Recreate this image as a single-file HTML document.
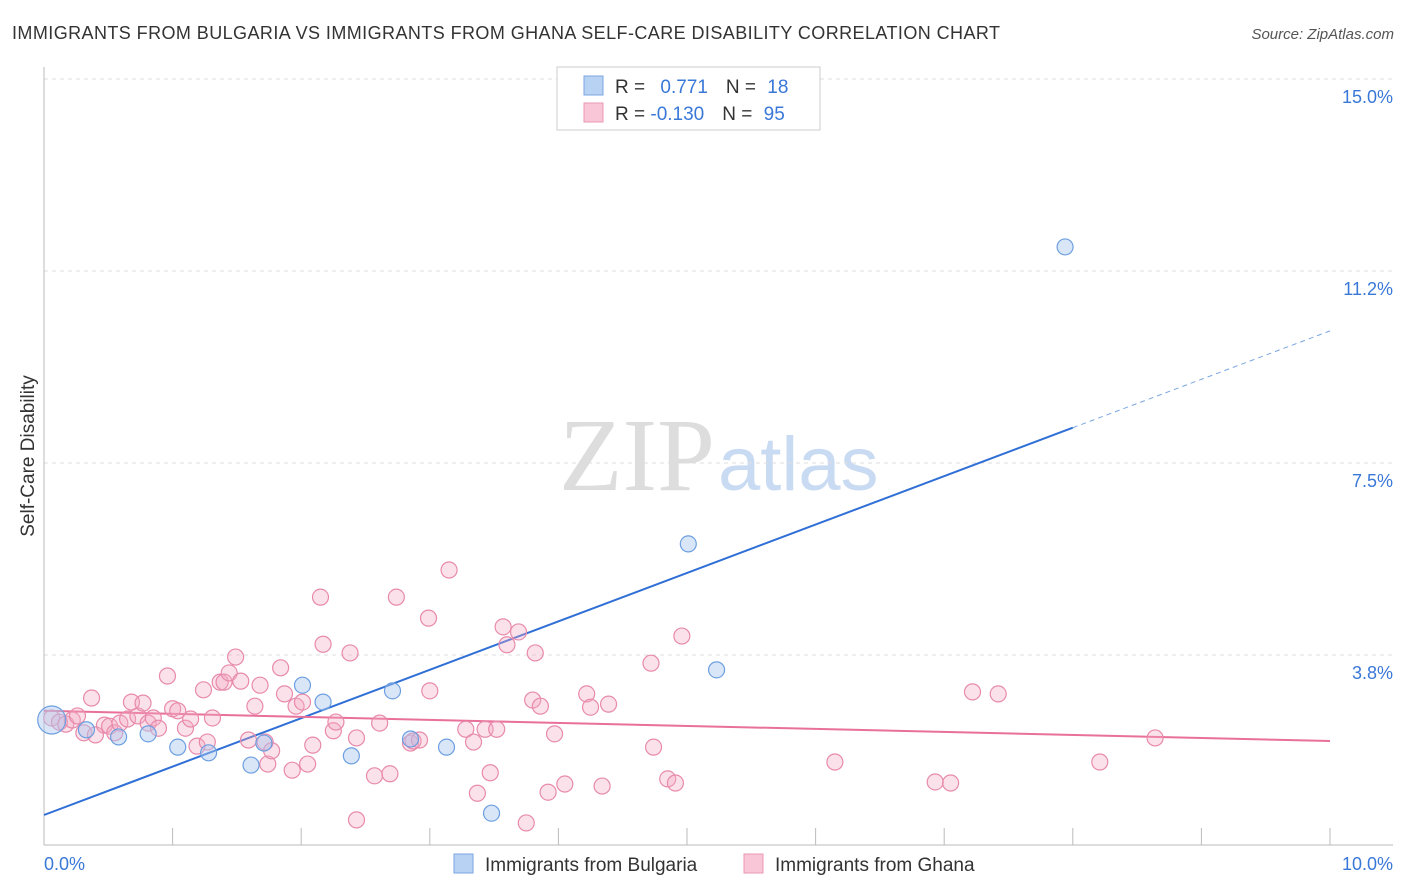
<!DOCTYPE html>
<html><head><meta charset="utf-8"><style>
body{margin:0;background:#fff;font-family:"Liberation Sans",sans-serif;}
svg{display:block}
</style></head><body>
<svg id="chart" width="1406" height="892" xmlns="http://www.w3.org/2000/svg">
<text x="12" y="39" font-size="18" fill="#333" textLength="988" lengthAdjust="spacing">IMMIGRANTS FROM BULGARIA VS IMMIGRANTS FROM GHANA SELF-CARE DISABILITY CORRELATION CHART</text>
<text x="1394" y="39" font-size="15" fill="#555" text-anchor="end" font-style="italic">Source: ZipAtlas.com</text>
<text x="715" y="490" font-size="104" fill="#ddd" text-anchor="end" font-family="Liberation Serif,serif">ZIP</text>
<text x="718" y="490" font-size="76" fill="#c9dbf2">atlas</text>
<g id="grid"></g>
<g id="axes"></g>
<g id="lines"></g>
<g id="points"></g>
<text transform="translate(34,456) rotate(-90)" font-size="19" fill="#333" text-anchor="middle">Self-Care Disability</text>
<g>
<rect x="557" y="67" width="263" height="63" fill="#fff" stroke="#ccc"/>
<rect x="584" y="76" width="19" height="19" fill="#b8d2f4" stroke="#7aa6e2"/>
<rect x="584" y="103" width="19" height="19" fill="#f8c6d6" stroke="#ea97b3"/>
<text x="615" y="93" font-size="19" fill="#333">R = <tspan fill="#3a78d8" dx="10">0.771</tspan><tspan dx="18" fill="#333">N = </tspan><tspan fill="#3a78d8" dx="6">18</tspan></text>
<text x="615" y="120" font-size="19" fill="#333">R = <tspan fill="#3a78d8">-0.130</tspan><tspan dx="18" fill="#333">N = </tspan><tspan fill="#3a78d8" dx="6">95</tspan></text>
</g>
<g>
<rect x="454" y="854" width="19" height="19" fill="#b8d2f4" stroke="#7aa6e2"/>
<text x="485" y="871" font-size="19" fill="#333">Immigrants from Bulgaria</text>
<rect x="744" y="854" width="19" height="19" fill="#f8c6d6" stroke="#ea97b3"/>
<text x="775" y="871" font-size="19" fill="#333">Immigrants from Ghana</text>
</g>
</svg>
<script>
const yTicks=[15.0,11.25,7.5,3.75];
const yTickLabels=["15.0%","11.2%","7.5%","3.8%"];
const xTicks=[0,1,2,3,4,5,6,7,8,9,10];
const bulgariaX=[0.06,0.33,0.58,0.81,1.04,1.28,1.61,1.71,2.01,2.17,2.39,2.71,2.85,3.13,3.48,5.01,5.23,7.94];
const bulgariaY=[2.48,2.29,2.15,2.21,1.95,1.84,1.60,2.03,3.16,2.83,1.78,3.05,2.11,1.95,0.66,5.92,3.46,11.72];
const ghanaX=[0.06,0.12,0.17,0.22,0.26,0.31,0.37,0.40,0.47,0.51,0.55,0.59,0.65,0.68,0.73,0.77,0.81,0.85,0.89,0.96,1.00,1.04,1.10,1.14,1.19,1.24,1.27,1.31,1.37,1.40,1.44,1.49,1.53,1.59,1.64,1.68,1.72,1.74,1.77,1.84,1.87,1.93,1.96,2.01,2.05,2.09,2.15,2.17,2.25,2.27,2.38,2.43,2.43,2.57,2.61,2.69,2.74,2.85,2.87,2.92,2.99,3.00,3.15,3.28,3.34,3.37,3.43,3.47,3.52,3.57,3.60,3.69,3.75,3.80,3.82,3.86,3.92,3.97,4.05,4.22,4.25,4.34,4.39,4.72,4.74,4.85,4.91,4.96,6.15,6.93,7.05,7.22,7.42,8.21,8.64];
const ghanaY=[2.52,2.44,2.40,2.48,2.56,2.23,2.91,2.19,2.38,2.36,2.23,2.42,2.50,2.83,2.56,2.81,2.42,2.52,2.32,3.34,2.70,2.66,2.32,2.50,1.97,3.07,2.05,2.52,3.22,3.22,3.40,3.71,3.24,2.09,2.75,3.16,2.05,1.62,1.88,3.50,2.99,1.50,2.75,2.83,1.62,1.99,4.88,3.96,2.27,2.44,3.79,2.13,0.53,1.39,2.42,1.43,4.88,2.03,2.07,2.09,4.47,3.05,5.41,2.30,2.05,1.05,2.30,1.45,2.30,4.30,3.95,4.20,0.47,2.87,3.79,2.75,1.07,2.21,1.23,2.99,2.73,1.19,2.79,3.59,1.95,1.33,1.25,4.12,1.66,1.27,1.25,3.03,2.99,1.66,2.13];
const bulgariaTrend=[0.625,10.08];
const ghanaTrend=[2.66,2.07];
const X=v=>44+v*128.6, Y=v=>847-v*51.2;
const NS="http://www.w3.org/2000/svg";
function mk(t,a,p){const e=document.createElementNS(NS,t);for(const k in a)e.setAttribute(k,a[k]);p.appendChild(e);return e;}
const grid=document.getElementById('grid'),axes=document.getElementById('axes'),lines=document.getElementById('lines'),pts=document.getElementById('points');
yTicks.forEach((t,i)=>{
 const l=mk('line',{x1:44,x2:1393,y1:Y(t),y2:Y(t),stroke:'#ddd','stroke-dasharray':'4,4'},grid);
 
 
 const tx=mk('text',{x:1393,y:Y(t)+24,'font-size':18,fill:'#3a78d8','text-anchor':'end'},grid);
 tx.textContent=yTickLabels[i];
 
 
});
const ya=mk('line',{x1:44,x2:44,y1:67,y2:845,stroke:'#bbb'},axes);


const xa=mk('line',{x1:44,x2:1393,y1:845,y2:845,stroke:'#bbb'},axes);


xTicks.forEach(t=>{
 const l=mk('line',{x1:X(t),x2:X(t),y1:828,y2:845,stroke:'#bbb'},axes);
 
 
});
const xl0=mk('text',{x:44,y:870,'font-size':18,fill:'#3a78d8'},axes);xl0.textContent=xTicks[0].toFixed(1)+'%';


const xl1=mk('text',{x:1393,y:870,'font-size':18,fill:'#3a78d8','text-anchor':'end'},axes);xl1.textContent=xTicks[xTicks.length-1].toFixed(1)+'%';


const bAt=x=>bulgariaTrend[0]+(bulgariaTrend[1]-bulgariaTrend[0])*x/10;
const b1=mk('line',{x1:X(0),y1:Y(bAt(0)),x2:X(8),y2:Y(bAt(8)),stroke:'#2f6fd6','stroke-width':2},lines);


const b2=mk('line',{x1:X(8),y1:Y(bAt(8)),x2:X(10),y2:Y(bAt(10)),stroke:'#7aa6e2','stroke-width':1,'stroke-dasharray':'5,4'},lines);


const g1=mk('line',{x1:X(0),y1:Y(ghanaTrend[0]),x2:X(10),y2:Y(ghanaTrend[1]),stroke:'#e8709a','stroke-width':2},lines);


ghanaX.forEach((x,i)=>{
 const c=mk('circle',{cx:X(x),cy:Y(ghanaY[i]),r:8,fill:'rgba(244,170,196,0.35)',stroke:'#e88aab','stroke-width':1.2},pts);
 
 
});
bulgariaX.forEach((x,i)=>{
 const c=mk('circle',{cx:X(x),cy:Y(bulgariaY[i]),r:i===0?14:8,fill:'rgba(170,200,240,0.45)',stroke:'#6d9fe0','stroke-width':1.2},pts);
 
 
});
</script>
</body></html>
